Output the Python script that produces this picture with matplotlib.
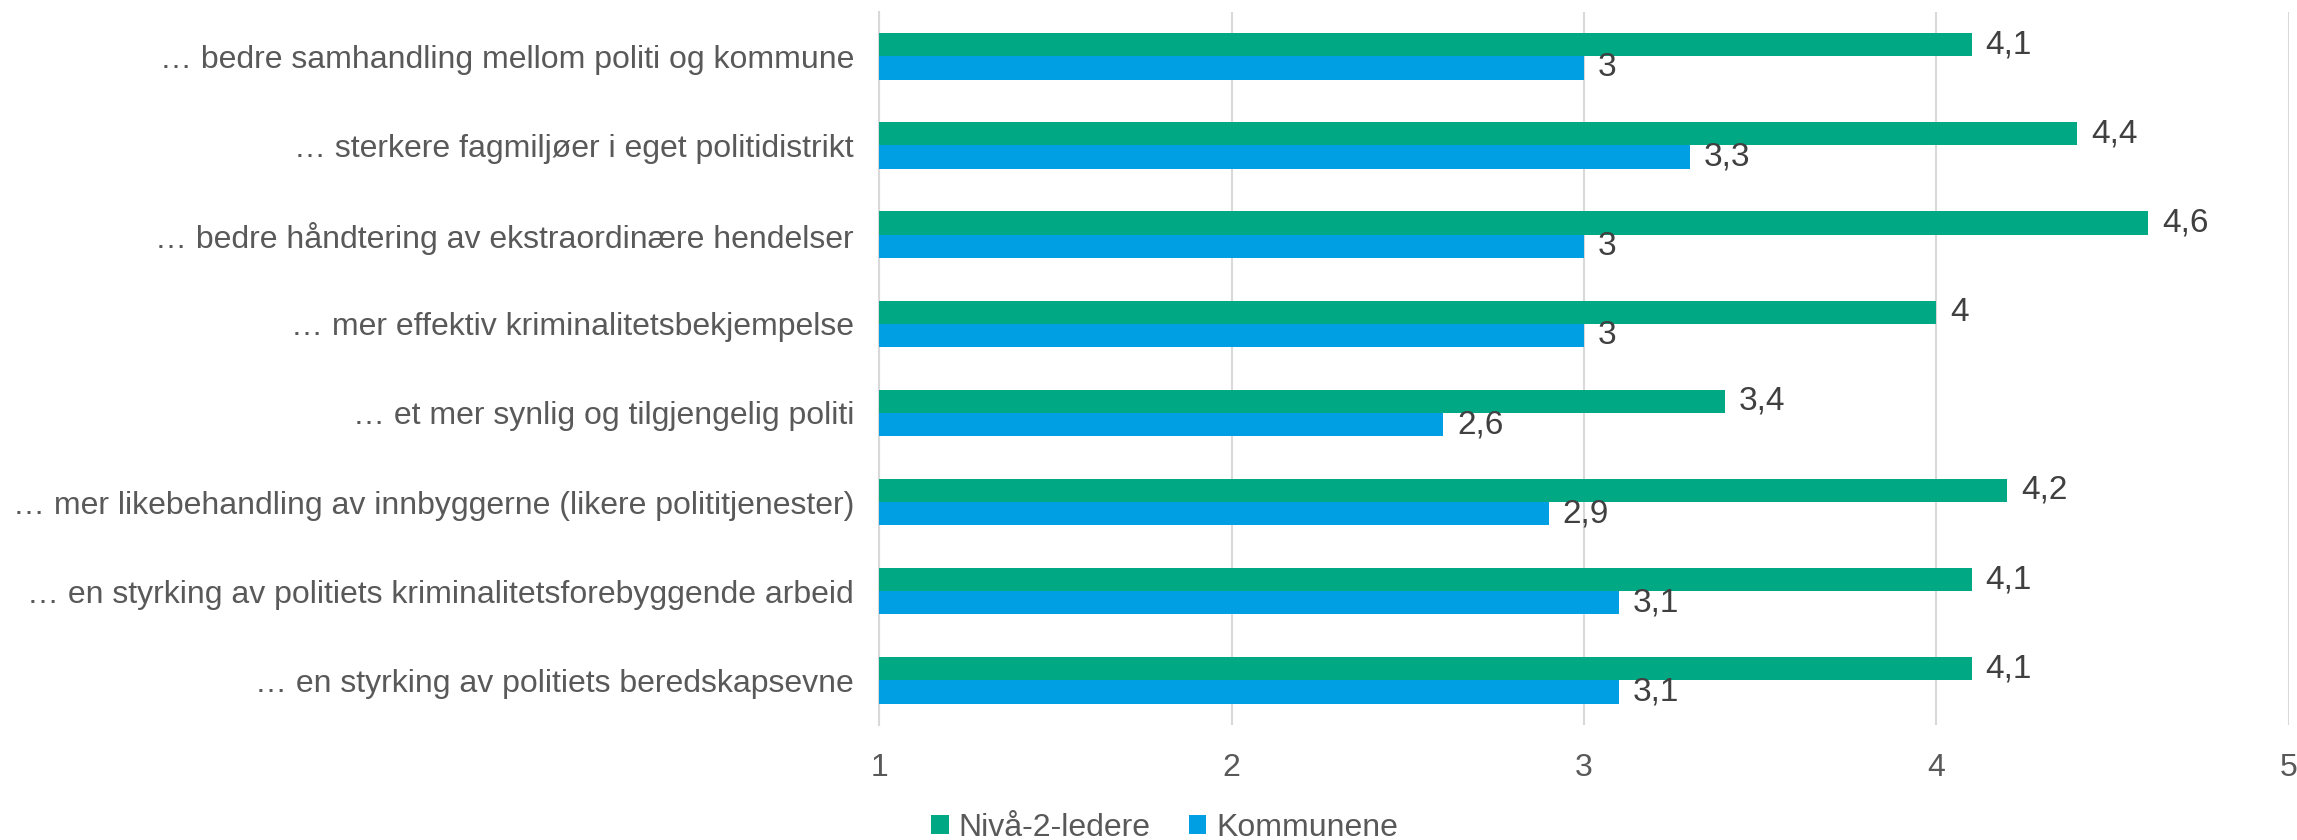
import matplotlib
matplotlib.use("Agg")
import matplotlib.pyplot as plt
import numpy as np

categories = [
    "… bedre samhandling mellom politi og kommune",
    "… sterkere fagmiljøer i eget politidistrikt",
    "… bedre håndtering av ekstraordinære hendelser",
    "… mer effektiv kriminalitetsbekjempelse",
    "… et mer synlig og tilgjengelig politi",
    "… mer likebehandling av innbyggerne (likere polititjenester)",
    "… en styrking av politiets kriminalitetsforebyggende arbeid",
    "… en styrking av politiets beredskapsevne",
]
niva2 = [4.1, 4.4, 4.6, 4.0, 3.4, 4.2, 4.1, 4.1]
kommunene = [3.0, 3.3, 3.0, 3.0, 2.6, 2.9, 3.1, 3.1]
series_names = ["Nivå-2-ledere", "Kommunene"]
xticks = [1, 2, 3, 4, 5]

GREEN = "#00A984"
BLUE = "#009FE3"
TXT = "#595959"
VAL = "#404040"

plt.rcParams['font.family'] = ['Liberation Sans', 'DejaVu Sans']

fig = plt.figure(figsize=(22.97, 8.40), dpi=100)
ax = fig.add_axes([0.3827, 0.137, 0.9965 - 0.3827, 0.986 - 0.137])

y = np.arange(len(categories))
h = 0.26
bars1 = ax.barh(y - h / 2, [v - 1 for v in niva2], left=1, height=h, color=GREEN, label=series_names[0], zorder=3)
bars2 = ax.barh(y + h / 2, [v - 1 for v in kommunene], left=1, height=h, color=BLUE, label=series_names[1], zorder=3)

def fmt(v):
    s = f"{v:.1f}"
    if s.endswith(".0"):
        s = s[:-2]
    return s.replace(".", ",")

for vals, offs in ((niva2, -h / 2), (kommunene, h / 2)):
    for i, v in enumerate(vals):
        ax.annotate(fmt(v), xy=(v, i + offs), xytext=(10, 0), textcoords="offset points",
                    va="center", ha="left", fontsize=24, color=VAL)

ax.set_xlim(1, 5)
ax.set_ylim(len(categories) - 0.5, -0.5)
ax.set_xticks(xticks)
ax.set_xticklabels([str(t) for t in xticks])
ax.set_yticks(y)
ax.set_yticklabels(categories)
ax.tick_params(axis='x', length=0, pad=20, labelsize=23, labelcolor=TXT)
ax.tick_params(axis='y', length=0, pad=18, labelsize=23, labelcolor=TXT)
ax.grid(axis='x', color="#D9D9D9", linewidth=1.5, zorder=0)
for s in ["top", "right", "bottom"]:
    ax.spines[s].set_visible(False)
ax.spines["left"].set_color("#D9D9D9")
ax.spines["left"].set_linewidth(1.5)

leg = fig.legend(handles=[bars1, bars2], labels=series_names, loc="lower center",
                 bbox_to_anchor=(0.507, -0.038), ncol=2, frameon=False, fontsize=23,
                 handlelength=0.55, handleheight=0.55, handletextpad=0.3, columnspacing=1.2)
for t in leg.get_texts():
    t.set_color(TXT)

fig.savefig("out.png", dpi=100)
